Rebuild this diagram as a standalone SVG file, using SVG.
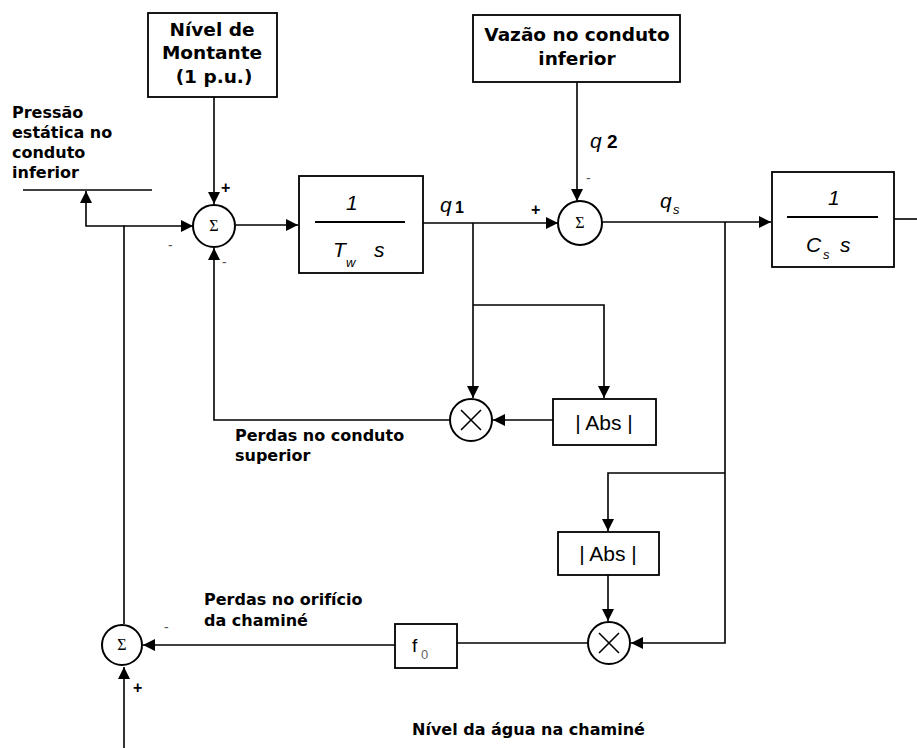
<svg xmlns="http://www.w3.org/2000/svg" width="917" height="748" viewBox="0 0 917 748">
<style>
.ln{fill:none;stroke:#000;stroke-width:1.6}
.bx{fill:#fff;stroke:#000;stroke-width:1.8}
.cc{fill:#fff;stroke:#000;stroke-width:2}
.lbl{font-family:"DejaVu Sans",Verdana,sans-serif;font-weight:bold;font-size:16px;fill:#000}
.btx{font-family:"DejaVu Sans",Verdana,sans-serif;font-weight:bold;font-size:18.5px;fill:#000;text-anchor:middle}
.mth{font-family:"Liberation Sans",Arial,sans-serif;font-style:italic;font-size:21px;fill:#000}
.sub{font-family:"Liberation Sans",Arial,sans-serif;font-style:italic;font-size:13px;fill:#000}
.abs{font-family:"Liberation Sans",Arial,sans-serif;font-size:21px;fill:#000;text-anchor:middle}
.sig{font-family:"Liberation Serif","Times New Roman",serif;font-size:16px;fill:#000;text-anchor:middle}
.pm{font-family:"Liberation Sans",Arial,sans-serif;font-weight:bold;font-size:16px;fill:#000}
.mn{font-family:"Liberation Sans",Arial,sans-serif;font-size:14px;fill:#555}
</style>
<defs>
<marker id="ah" viewBox="0 0 12 12" refX="12" refY="6" markerWidth="12" markerHeight="12" markerUnits="userSpaceOnUse" orient="auto">
<path d="M0,0 L12,6 L0,12 z" fill="#000"/>
</marker>
</defs>
<rect width="917" height="748" fill="#fff"/>

<g id="connectors">
<path class="ln" d="M214,97 V204" marker-end="url(#ah)"/>
<path class="ln" d="M23,190 H152"/>
<path class="ln" d="M124,624 V226 H86 V191" marker-end="url(#ah)"/>
<path class="ln" d="M124,226 H193" marker-end="url(#ah)"/>
<path class="ln" d="M236,225 H298" marker-end="url(#ah)"/>
<path class="ln" d="M423,223 H558" marker-end="url(#ah)"/>
<path class="ln" d="M577,82 V201" marker-end="url(#ah)"/>
<path class="ln" d="M602,222 H771" marker-end="url(#ah)"/>
<path class="ln" d="M894,219 H917"/>
<path class="ln" d="M473,223 V398" marker-end="url(#ah)"/>
<path class="ln" d="M473,305 H604 V398" marker-end="url(#ah)"/>
<path class="ln" d="M553,420 H493" marker-end="url(#ah)"/>
<path class="ln" d="M450,420 H214 V248" marker-end="url(#ah)"/>
<path class="ln" d="M725,222 V643 H631" marker-end="url(#ah)"/>
<path class="ln" d="M725,473 H608 V531" marker-end="url(#ah)"/>
<path class="ln" d="M608,575 V621" marker-end="url(#ah)"/>
<path class="ln" d="M588,643 H457"/>
<path class="ln" d="M395,645 H143" marker-end="url(#ah)"/>
<path class="ln" d="M124,748 V667" marker-end="url(#ah)"/>
</g>

<g id="nivel-montante">
<rect class="bx" x="148" y="13" width="129" height="84"/>
<text class="btx" x="212" y="36">Nível de</text>
<text class="btx" x="212" y="59">Montante</text>
<text class="btx" x="214" y="83">(1 p.u.)</text>
</g>

<g id="vazao">
<rect class="bx" x="473" y="15" width="207" height="67"/>
<text class="btx" x="577" y="41">Vazão no conduto</text>
<text class="btx" x="577" y="65">inferior</text>
</g>

<g id="pressao-label">
<text class="lbl" x="12" y="118">Pressão</text>
<text class="lbl" x="12" y="138">estática no</text>
<text class="lbl" x="12" y="158">conduto</text>
<text class="lbl" x="12" y="178">inferior</text>
</g>

<g id="sum1">
<circle class="cc" cx="214" cy="226" r="21"/>
<text class="sig" x="214" y="231">Σ</text>
<text class="pm" x="221" y="193">+</text>
<text class="mn" x="168" y="250">-</text>
<text class="mn" x="222" y="267">-</text>
</g>

<g id="tw">
<rect class="bx" x="299" y="176" width="124" height="97"/>
<text class="mth" x="346" y="210">1</text>
<line x1="315" y1="222" x2="405" y2="222" stroke="#000" stroke-width="1.8"/>
<text class="mth" x="333" y="257">T</text>
<text class="sub" x="346" y="267">w</text>
<text class="mth" x="374" y="257">s</text>
</g>

<g id="q1-label"><text class="mth" x="440" y="212">q</text><text font-family="Liberation Sans,Arial,sans-serif" font-weight="bold" font-size="16" x="455" y="213">1</text></g>

<g id="sum2">
<circle class="cc" cx="580" cy="223" r="22"/>
<text class="sig" x="580" y="228">Σ</text>
<text class="pm" x="531" y="215">+</text>
<text class="mn" x="586" y="183">-</text>
</g>

<g id="q2-label"><text class="mth" x="590" y="148">q</text><text font-family="Liberation Sans,Arial,sans-serif" font-weight="bold" font-size="19" x="607" y="148">2</text></g>

<g id="qs-label"><text class="mth" x="660" y="208">q</text><text class="sub" x="673" y="214">s</text></g>

<g id="cs">
<rect class="bx" x="772" y="172" width="122" height="95"/>
<text class="mth" x="828" y="205">1</text>
<line x1="787" y1="217" x2="878" y2="217" stroke="#000" stroke-width="1.8"/>
<text class="mth" x="806" y="252">C</text>
<text class="sub" x="823" y="259">s</text>
<text class="mth" x="840" y="252">s</text>
</g>

<g id="mult1">
<circle class="cc" cx="471" cy="420" r="21"/>
<path class="ln" d="M461,410 L481,430 M481,410 L461,430" stroke-width="2.4"/>
</g>

<g id="abs1">
<rect class="bx" x="553" y="399" width="103" height="46"/>
<text class="abs" x="604" y="430">| Abs |</text>
</g>

<g id="perdas-conduto-label">
<text class="lbl" x="235" y="441">Perdas no conduto</text>
<text class="lbl" x="235" y="461">superior</text>
</g>

<g id="abs2">
<rect class="bx" x="558" y="532" width="101" height="43"/>
<text class="abs" x="608" y="561">| Abs |</text>
</g>

<g id="mult2">
<circle class="cc" cx="609" cy="643" r="21"/>
<path class="ln" d="M599,633 L619,653 M619,633 L599,653" stroke-width="2.4"/>
</g>

<g id="f0">
<rect class="bx" x="395" y="624" width="62" height="44"/>
<text font-family="Liberation Sans,Arial,sans-serif" font-size="19" x="412" y="652">f</text>
<text font-family="Liberation Sans,Arial,sans-serif" font-size="13" fill="#666" x="421" y="659">0</text>
</g>

<g id="perdas-orificio-label">
<text class="lbl" x="204" y="605">Perdas no orifício</text>
<text class="lbl" x="204" y="626">da chaminé</text>
</g>

<g id="sum3">
<circle class="cc" cx="122" cy="645" r="20"/>
<text class="sig" x="122" y="650">Σ</text>
<text class="mn" x="164" y="632">-</text>
<text class="pm" x="133" y="693">+</text>
</g>

<g id="nivel-agua-label">
<text class="lbl" x="412" y="735">Nível da água na chaminé</text>
</g>
</svg>
